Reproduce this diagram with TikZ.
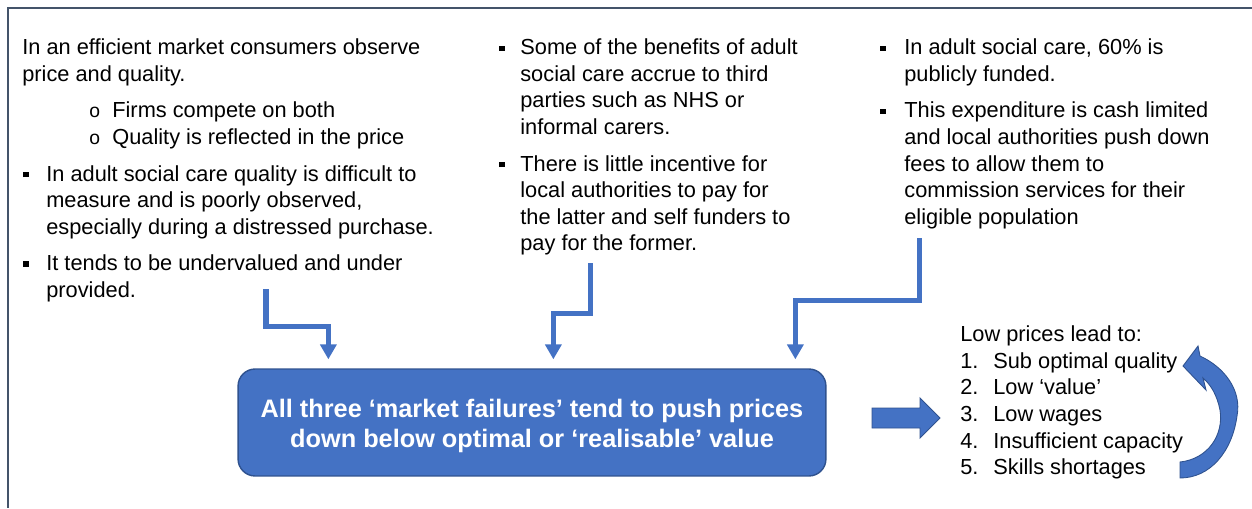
\documentclass[tikz,border=0pt]{standalone}
\usepackage{fontspec}
\setmainfont{Liberation Sans}
\usepackage{array}
\usetikzlibrary{arrows.meta}

\definecolor{mfblue}{HTML}{4472C4}
\definecolor{mfedge}{HTML}{2F528F}
\definecolor{mfframe}{HTML}{44546A}

\newlength\pix
\setlength\pix{0.02cm}
\newcommand\sqb{\hspace*{1\pix}\rule[2.3pt]{3pt}{3pt}}
\newcommand\subb{\hspace*{67\pix}\makebox[23\pix][l]{\fontsize{11}{11}\selectfont o}}
\newcommand\wide[1]{\multicolumn{2}{@{}l@{}}{#1}}

\tikzset{
  txt/.style={anchor=north west,inner sep=0pt,font=\fontsize{12.4}{15.1}\selectfont},
  failbox/.style={draw=mfedge,line width=0.8pt,fill=mfblue,rounded corners=9.7pt,
    minimum width=11.76cm,minimum height=2.14cm,align=center,text=white,
    font=\fontsize{14.4}{17}\selectfont\bfseries},
  elbow/.style={draw=mfblue,line width=2.85pt,-{Triangle[width=9.1pt,length=8.5pt]}},
  fatarrow/.style={fill=mfblue,draw=mfedge,line width=0.5pt},
  frame/.style={draw=mfframe,line width=1.15pt}
}

\begin{document}
\begin{tikzpicture}[x=0.02cm,y=-0.02cm]
\useasboundingbox (0,0) rectangle (1252,508);
\draw[frame] (1252,8) -- (8,8) -- (8,508);

\node[txt] (effic) at (22,36) {\begin{tabular}{@{}p{24\pix}@{}l@{}}
\wide{In an efficient market consumers observe}\\
\wide{price and quality.}\\[10\pix]
\wide{\subb Firms compete on both}\\
\wide{\subb Quality is reflected in the price}\\[10\pix]
\sqb & In adult social care quality is difficult to\\
 & measure and is poorly observed,\\
 & especially during a distressed purchase.\\[10\pix]
\sqb & It tends to be undervalued and under\\
 & provided.
\end{tabular}};

\node[txt] (benef) at (498,36) {\begin{tabular}{@{}p{22\pix}@{}l@{}}
\sqb & Some of the benefits of adult\\
 & social care accrue to third\\
 & parties such as NHS or\\
 & informal carers.\\[10\pix]
\sqb & There is little incentive for\\
 & local authorities to pay for\\
 & the latter and self funders to\\
 & pay for the former.
\end{tabular}};

\node[txt] (funded) at (879,36) {\begin{tabular}{@{}p{25\pix}@{}l@{}}
\sqb & In adult social care, 60\% is\\
 & publicly funded.\\[10\pix]
\sqb & This expenditure is cash limited\\
 & and local authorities push down\\
 & fees to allow them to\\
 & commission services for their\\
 & eligible population
\end{tabular}};

\node[failbox] (failures) at (532,422.5) {\rule{0pt}{14pt}All three ‘market failures’ tend to push prices\\down below optimal or ‘realisable’ value};

\node[txt] (lowprice) at (960,323) {\begin{tabular}{@{}p{33\pix}@{}l@{}}
\wide{Low prices lead to:}\\
1. & Sub optimal quality\\
2. & Low ‘value’\\
3. & Low wages\\
4. & Insufficient capacity\\
5. & Skills shortages
\end{tabular}};

% elbow arrows into the box
\coordinate (fromA) at (266,289);
\coordinate (fromB) at (590,263);
\coordinate (fromC) at (919,238);
\draw[elbow] (fromA) -- ++(0,37) -| ([shift={(91,-9)}]failures.north west);
\draw[elbow] (fromB) -- ++(0,50) -| ([shift={(316,-9)}]failures.north west);
\draw[elbow] (fromC) -- ++(0,62) -| ([shift={(558,-9)}]failures.north west);

% block arrow and curved arrow
\filldraw[fatarrow] (872,408) -- (920,408) -- (920,398) -- (940,418) -- (920,438) -- (920,428) -- (872,428) -- cycle;
\filldraw[fatarrow] (1180,478) -- (1180,462)
  .. controls (1208,459) and (1224,435) .. (1220,410)
  .. controls (1217,395) and (1211,385) .. (1203,378)
  -- (1206,390) -- (1183,366) -- (1198,346) -- (1200,356)
  .. controls (1224,367) and (1242,390) .. (1237,416)
  .. controls (1232,452) and (1210,478) .. (1180,478) -- cycle;
\end{tikzpicture}
\end{document}
